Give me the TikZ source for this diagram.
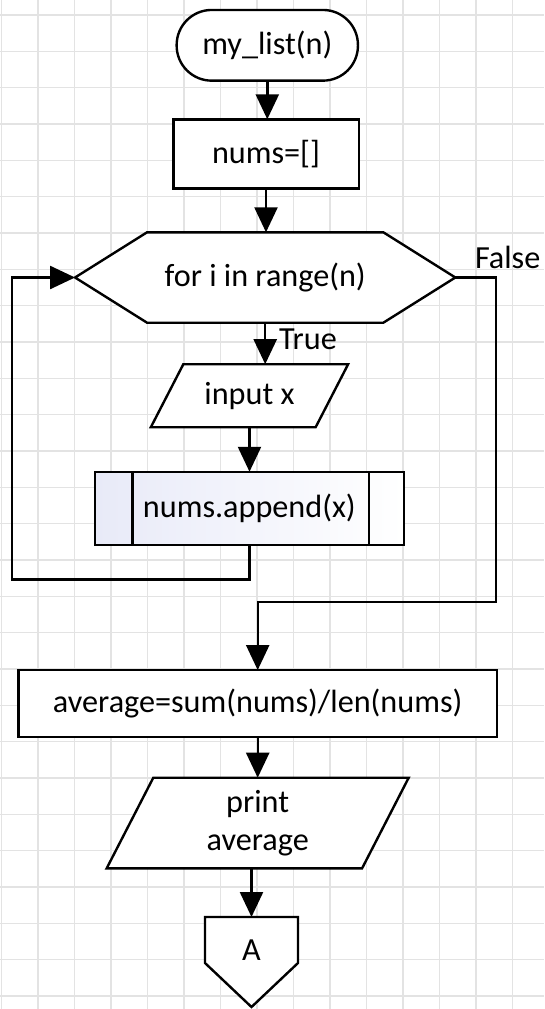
\documentclass[tikz,border=0pt]{standalone}
\usepackage{fontspec}
\setmainfont{Carlito}
\usetikzlibrary{arrows.meta,calc}
\definecolor{lav}{RGB}{232,234,248}
\begin{document}
\begin{tikzpicture}[x=1pt,y=-1pt,
  every node/.style={font=\fontsize{32.2}{38}\selectfont, inner sep=0pt, outer sep=0pt},
  shp/.style={draw=black, fill=white, line width=2.4pt},
  plain/.style={draw=black, line width=2.4pt},
  conn/.style={draw=black, line width=2.4pt, -{Triangle[length=25pt,width=23pt]}},
  gridline/.style={draw=gray!22, line width=1.5pt}]
% background and grid
\fill[white] (0,0) rectangle (544,1009);
\useasboundingbox (0,0) rectangle (544,1009);
\foreach \k in {0,...,14} \draw[gridline] ({1.5+36.5*\k},0) -- ({1.5+36.5*\k},1009);
\foreach \k in {0,...,27} \draw[gridline] (0,{15+36.33*\k}) -- (544,{15+36.33*\k});

% terminal
\node[shp, rounded corners=35pt, minimum width=181.3pt, minimum height=70.7pt] (term) at (267.3,45.3) {my\_list(n)};
% process
\node[shp, minimum width=185.4pt, minimum height=69pt] (nums) at (266,153.8) {nums=[]};
% loop hexagon
\node[minimum width=380.3pt, minimum height=90.4pt] (hex) at (265.2,277.5) {};
\draw[shp] (hex.west) -- ($(hex.north west)+(72,0)$) -- ($(hex.north east)+(-72,0)$) -- (hex.east)
  -- ($(hex.south east)+(-72,0)$) -- ($(hex.south west)+(72,0)$) -- cycle;
\node (hextext) at (hex.center) {for i in range(n)};
% input parallelogram
\node[minimum width=197.3pt, minimum height=63pt] (inp) at (249.5,395.7) {};
\draw[shp] ($(inp.north west)+(32.5,0)$) -- (inp.north east) -- ($(inp.south east)+(-32.5,0)$) -- (inp.south west) -- cycle;
\node (inptext) at (inp.center) {input x};
% predefined process
\node[plain, left color=lav, right color=white, minimum width=308.7pt, minimum height=73.3pt] (app) at (249.4,508.4) {};
\draw[plain] ($(app.north west)+(37.5,0)$) -- ($(app.south west)+(37.5,0)$);
\draw[plain] ($(app.north east)+(-35,0)$) -- ($(app.south east)+(-35,0)$);
\node (apptext) at (app.center) {nums.append(x)};
% average
\node[shp, minimum width=478.7pt, minimum height=66.7pt] (avg) at (257.7,703.4) {average=sum(nums)/len(nums)};
% print parallelogram
\node[minimum width=302pt, minimum height=90.6pt] (prt) at (257.7,823) {};
\draw[shp] ($(prt.north west)+(46.6,0)$) -- (prt.north east) -- ($(prt.south east)+(-46.6,0)$) -- (prt.south west) -- cycle;
\node[align=center] (prttext) at (prt.center) {print\\average};
% off-page connector
\node[minimum width=93pt, minimum height=90pt] (conA) at (251.5,962) {};
\draw[shp] (conA.north west) -- (conA.north east) -- ($(conA.north east)+(0,46)$) -- (conA.south)
  -- ($(conA.north west)+(0,46)$) -- cycle;
\node (Atext) at (251.5,950) {A};

% labels
\node[anchor=base west] (tlab) at (279,349.5) {True};
\node[anchor=base west] (flab) at (475,268) {False};

% connectors
\coordinate (loopL) at (11.7,579.3);
\coordinate (fR) at (496,602);
\draw[conn] (term.south) -- (term.south |- nums.north);
\draw[conn] (nums.south) -- (nums.south |- hex.north);
\draw[conn] (hex.south) -- (hex.south |- inp.north);
\draw[conn] (inp.south) -- (inp.south |- app.north);
\draw[conn] (app.south) |- (loopL) |- (hex.west);
\draw[conn] (hex.east) -| (fR) -| (avg.north);
\draw[conn] (avg.south) -- (avg.south |- prt.north);
\draw[conn] (prt.south -| conA.north) -- (conA.north);
\end{tikzpicture}
\end{document}
